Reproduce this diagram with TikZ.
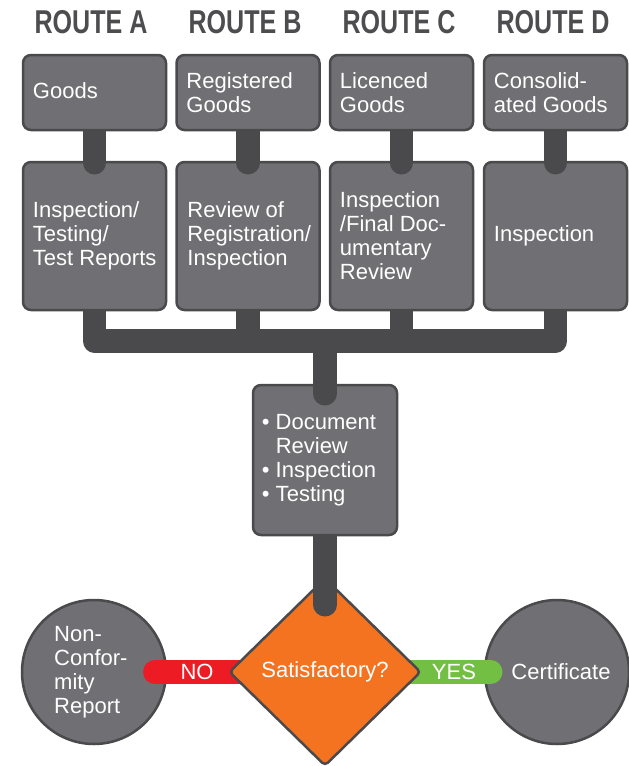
\documentclass[tikz,border=0pt]{standalone}
\usepackage{fontspec}
\usepackage{graphicx}
\setmainfont{Liberation Sans}
\usetikzlibrary{shapes.geometric,calc}
\pgfdeclarelayer{lzero}
\pgfdeclarelayer{lone}
\pgfdeclarelayer{ltwo}
\pgfdeclarelayer{lthree}
\pgfdeclarelayer{ltop}
\pgfsetlayers{lzero,lone,ltwo,lthree,main,ltop}
\definecolor{boxgray}{HTML}{707074}
\definecolor{darkgray}{HTML}{4A4A4C}
\definecolor{headgray}{HTML}{4D4D4F}
\definecolor{orng}{HTML}{F37321}
\definecolor{redbar}{HTML}{ED1C24}
\definecolor{greenbar}{HTML}{72BF44}
\tikzset{
  box/.style={draw=darkgray, fill=boxgray, line width=2.5pt, rounded corners=8pt, inner sep=0pt},
  toprow/.style={box, minimum width=143pt, minimum height=75pt},
  midrow/.style={box, minimum width=143pt, minimum height=148pt},
  txt/.style={text=white, align=left, inner sep=0pt, font=\fontsize{22}{24}\selectfont},
  head/.style={text=headgray, inner sep=0pt, anchor=base, font=\fontsize{33}{33}\selectfont\bfseries},
  bar/.style={draw=darkgray, line width=23.5pt},
  endcircle/.style={circle, draw=darkgray, fill=boxgray, line width=2.5pt, minimum size=144pt, inner sep=0pt},
  decision/.style={diamond, draw=darkgray, fill=orng, line width=2.5pt, minimum width=192pt, minimum height=188pt, rounded corners=4pt, inner sep=0pt}
}
\newcommand{\hd}[1]{\scalebox{0.76}[1]{#1}}
\begin{document}
\begin{tikzpicture}[x=1pt,y=-1pt]
\useasboundingbox (0,0) rectangle (629,766);
% headers
\node[head] (ha) at (91,33) {\hd{ROUTE A}};
\node[head] (hb) at (245,33) {\hd{ROUTE B}};
\node[head] (hc) at (399,33) {\hd{ROUTE C}};
\node[head] (hd) at (553,33) {\hd{ROUTE D}};
\coordinate (busy) at (325,341);
% second row boxes
\begin{pgfonlayer}{lone}
\node[midrow] (a2) at (94.5,236) {};
\node[midrow] (b2) at (248,236) {};
\node[midrow] (c2) at (401.5,236) {};
\node[midrow] (d2) at (555.5,236) {};
\end{pgfonlayer}
% top row boxes
\begin{pgfonlayer}{lthree}
\node[toprow] (a1) at (94.5,92.5) {};
\node[toprow] (b1) at (248,92.5) {};
\node[toprow] (c1) at (401.5,92.5) {};
\node[toprow] (d1) at (555.5,92.5) {};
\end{pgfonlayer}
% bus
\begin{pgfonlayer}{lzero}
\draw[bar, line join=round] ([yshift=10pt]a2.south) -- (a2.south |- busy) -- (d2.south |- busy) -- ([yshift=10pt]d2.south);
\draw[bar] ([yshift=10pt]b2.south) -- (b2.south |- busy);
\draw[bar] ([yshift=10pt]c2.south) -- (c2.south |- busy);
\end{pgfonlayer}
% row 1 to row 2 bars
\begin{pgfonlayer}{ltwo}
\foreach \n in {a,b,c,d}{
  \draw[bar, line cap=round] ([yshift=12pt]\n1.south) -- ([yshift=-2pt]\n2.north);
}
\end{pgfonlayer}
% bottom part
\begin{pgfonlayer}{lzero}
\node[endcircle] (nc) at (94,672) {};
\node[endcircle] (cert) at (557,672) {};
\end{pgfonlayer}
\begin{pgfonlayer}{ltwo}
\node[decision] (dia) at (325,672) {};
\end{pgfonlayer}
\begin{pgfonlayer}{lone}
\draw[draw=redbar, line width=23.5pt, line cap=round] ([xshift=-12.5pt]nc.east) -- ([xshift=20pt]dia.west);
\draw[draw=greenbar, line width=23.5pt, line cap=round] ([xshift=-20pt]dia.east) -- ([xshift=7pt]cert.west);
\end{pgfonlayer}
% document box
\node[box, minimum width=144pt, minimum height=150pt] (doc) at (325,460) {};
\begin{pgfonlayer}{lthree}
\draw[bar, line cap=round] ([yshift=10pt]doc.south) -- ([yshift=-28pt]dia.north);
\end{pgfonlayer}
\begin{pgfonlayer}{ltop}
\draw[bar, line cap=round] (busy) -- ([yshift=-10pt]doc.north);
\end{pgfonlayer}
% texts
\node[txt, anchor=west] (ta1) at ([xshift=11pt,yshift=2pt]a1.west) {Goods};
\node[txt, anchor=west] (tb1) at ([xshift=11pt]b1.west) {Registered\\Goods};
\node[txt, anchor=west] (tc1) at ([xshift=11pt]c1.west) {Licenced\\Goods};
\node[txt, anchor=west] (td1) at ([xshift=11pt]d1.west) {Consolid-\\ated Goods};
\node[txt, anchor=west] (ta2) at ([xshift=11pt]a2.west) {Inspection/\\Testing/\\Test Reports};
\node[txt, anchor=west] (tb2) at ([xshift=12pt]b2.west) {Review of\\Registration/\\Inspection};
\node[txt, anchor=west] (tc2) at ([xshift=11pt]c2.west) {Inspection\\/Final Doc-\\umentary\\Review};
\node[txt, anchor=west] (td2) at ([xshift=11pt]d2.west) {Inspection};
\node[txt, anchor=west] (tdoc) at ([xshift=10pt]doc.west) {• Document\\\phantom{• }Review\\• Inspection\\• Testing};
\node[txt] (tdia) at (dia) {Satisfactory?};
\node[txt, anchor=west] (tnc) at (54,672) {Non-\\Confor-\\mity\\Report};
\node[txt] (tcert) at (561,672) {Certificate};
\node[txt] (tno) at (197,672) {NO};
\node[txt] (tyes) at (454,672) {YES};
\end{tikzpicture}
\end{document}
